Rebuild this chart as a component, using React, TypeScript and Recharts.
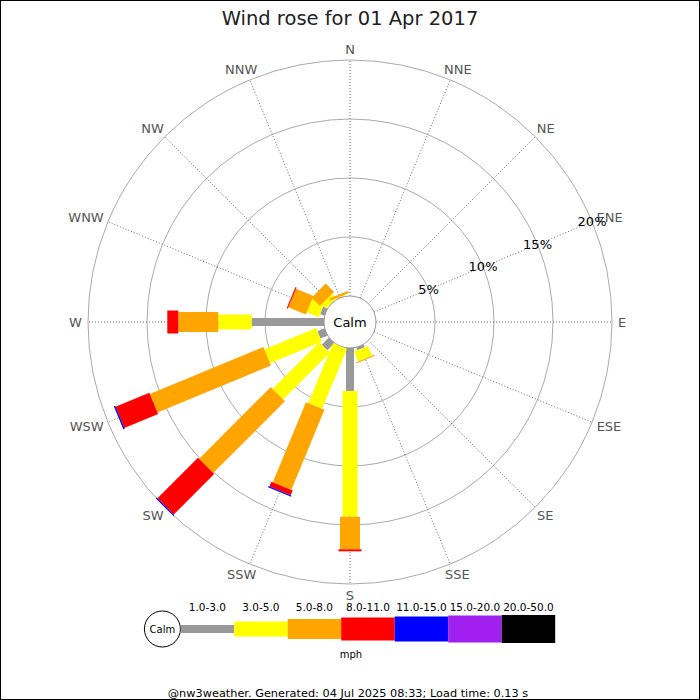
import React from 'react';
import {
  RadialBarChart,
  RadialBar,
  PolarAngleAxis,
  PolarRadiusAxis,
  PolarGrid,
  Customized,
} from 'recharts';

// wind directions, clockwise from north
const directions = ['N', 'NNE', 'NE', 'ENE', 'E', 'ESE', 'SE', 'SSE', 'S', 'SSW', 'SW', 'WSW', 'W', 'WNW', 'NW', 'NNW'];

// % of the day in each speed band (mph), one value per direction
const speed1to3 = [0, 0, 0, 0, 0, 0, 0, 0.25, 3.64, 0, 0.85, 0.65, 6.13, 0.4, 0.05, 0.05];
const speed3to5 = [0, 0, 0, 0, 0, 0, 0, 0.9, 10.66, 5.5, 5.6, 4.75, 2.83, 1.1, 0.5, 0.05];
const speed5to8 = [0, 0, 0, 0, 0, 0, 0, 0.1, 2.76, 7.35, 8.6, 10.4, 3.39, 1.6, 1.0, 0.2];
const speed8to11 = [0, 0, 0, 0, 0, 0, 0, 0, 0.17, 0.44, 4.85, 3.1, 0.93, 0.1, 0, 0];
const speed11to15 = [0, 0, 0, 0, 0, 0, 0, 0, 0, 0.1, 0.15, 0.12, 0, 0, 0, 0];
const speed15to20 = [0, 0, 0, 0, 0, 0, 0, 0, 0, 0, 0, 0, 0, 0, 0, 0];
const speed20to50 = [0, 0, 0, 0, 0, 0, 0, 0, 0, 0, 0, 0, 0, 0, 0, 0];

const bandLabels = ['1.0-3.0', '3.0-5.0', '5.0-8.0', '8.0-11.0', '11.0-15.0', '15.0-20.0', '20.0-50.0'];
const radiusTicks = [5, 10, 15, 20];

const CX = 350;
const CY = 322;
const R0 = 26;
const R1 = 262;
const FONT = '"DejaVu Sans", Verdana, sans-serif';
// bars sit in the middle of their band, the ticks at its edge
const HALF_BAND = 360 / directions.length / 2;

const series = [
  { key: 's1', values: speed1to3, color: '#999999', width: 8 },
  { key: 's2', values: speed3to5, color: '#ffff00', width: 15 },
  { key: 's3', values: speed5to8, color: '#ffa500', width: 20 },
  { key: 's4', values: speed8to11, color: '#ff0000', width: 23 },
  { key: 's5', values: speed11to15, color: '#0000ff', width: 25 },
  { key: 's6', values: speed15to20, color: '#a020f0', width: 27 },
  { key: 's7', values: speed20to50, color: '#000000', width: 28 },
];

const data = directions.map((dir, i) => {
  const row: any = { dir };
  series.forEach((s) => (row[s.key] = s.values[i]));
  return row;
});

// straight bar piece instead of a wedge
const rosePiece = (w: number) => (p: any) => {
  const { cx, cy, innerRadius, outerRadius, startAngle, endAngle, fill } = p;
  if (!(outerRadius - innerRadius > 0.05)) return <g />;
  const mid = (startAngle + endAngle) / 2 - HALF_BAND;
  const a = (-mid * Math.PI) / 180;
  const ux = Math.cos(a);
  const uy = Math.sin(a);
  const tx = (-uy * w) / 2;
  const ty = (ux * w) / 2;
  const pts = [
    [innerRadius, 1],
    [outerRadius, 1],
    [outerRadius, -1],
    [innerRadius, -1],
  ]
    .map(([r, s]) => `${cx + ux * r + s * tx},${cy + uy * r + s * ty}`)
    .join(' ');
  return <polygon points={pts} fill={fill} />;
};

const charW: any = { N: 9.7, E: 8.2, S: 8.3, W: 12.9 };

const DirTick = (props: any) => {
  const { payload } = props;
  const label = String(payload.value);
  const a = (-payload.coordinate * Math.PI) / 180;
  const ux = Math.cos(a);
  const uy = Math.sin(a);
  const halfW = label.split('').reduce((t, c) => t + (charW[c] || 9), 0) / 2;
  const x = CX + ux * 268 + ux * halfW;
  const y = CY + uy * 268 + uy * 5;
  return (
    <text x={x} y={y} textAnchor="middle" dominantBaseline="central" fontSize={13} fill="#555" fontFamily={FONT}>
      {label}
    </text>
  );
};

const PctTick = (props: any) => {
  const { x, y, payload } = props;
  return (
    <text x={x} y={y} textAnchor="middle" dominantBaseline="central" fontSize={13} fill="#000" fontFamily={FONT}>
      {payload.value}%
    </text>
  );
};

const CalmCircle = () => (
  <g>
    <circle cx={CX} cy={CY} r={R0} fill="#fff" stroke="#999" strokeWidth={1} />
    <text x={CX} y={CY} textAnchor="middle" dominantBaseline="central" fontSize={13} fill="#000" fontFamily={FONT}>
      Calm
    </text>
  </g>
);

const legendX0 = 180.7;
const legendStep = 53.5;
const legendY = 629;

const App = () => {
  return (
    <div style={{ position: 'absolute', left: 0, top: 0, width: 700, height: 700, background: '#fff' }}>
      <RadialBarChart
        width={700}
        height={700}
        cx={CX}
        cy={CY}
        innerRadius={R0}
        outerRadius={R1}
        data={data}
        layout="centric"
        startAngle={90}
        endAngle={-270}
        margin={{ top: 0, right: 0, bottom: 0, left: 0 }}
      >
        <PolarGrid gridType="circle" radialLines={false} stroke="#aaa" />
        <PolarGrid gridType="circle" polarRadius={[]} stroke="#444" strokeDasharray="1 2" strokeWidth={0.8} />
        <PolarAngleAxis type="category" dataKey="dir" axisLine={false} tickLine={false} tick={DirTick} />
        <PolarRadiusAxis
          type="number"
          angle={22.5}
          domain={[0, 20]}
          allowDataOverflow
          ticks={radiusTicks}
          axisLine={false}
          tickLine={false}
          tick={PctTick}
        />
        {series.map((s) => (
          <RadialBar
            key={s.key}
            dataKey={s.key}
            stackId="wind"
            fill={s.color}
            shape={rosePiece(s.width)}
            isAnimationActive={false}
          />
        ))}
        <Customized component={CalmCircle} />
      </RadialBarChart>

      <svg width={700} height={700} style={{ position: 'absolute', left: 0, top: 0, pointerEvents: 'none' }} fontFamily={FONT}>
        <rect x={0.5} y={0.5} width={699} height={699} fill="none" stroke="#000" />
        <text x={350} y={25} textAnchor="middle" fontSize={19.5} fill="#222">
          Wind rose for 01 Apr 2017
        </text>
        <circle cx={162.4} cy={legendY} r={18} fill="#fff" stroke="#000" />
        <text x={162.4} y={legendY} textAnchor="middle" dominantBaseline="central" fontSize={10} fill="#000">
          Calm
        </text>
        {series.map((s, i) => (
          <g key={s.key}>
            <rect x={legendX0 + i * legendStep} y={legendY - s.width / 2} width={legendStep} height={s.width} fill={s.color} />
            <text
              x={legendX0 + i * legendStep + legendStep / 2}
              y={607}
              textAnchor="middle"
              dominantBaseline="central"
              fontSize={10.5}
              fill="#000"
            >
              {bandLabels[i]}
            </text>
          </g>
        ))}
        <text x={351} y={654} textAnchor="middle" dominantBaseline="central" fontSize={10} fill="#000">
          mph
        </text>
        <text x={348} y={693} textAnchor="middle" dominantBaseline="central" fontSize={11.3} fill="#000">
          @nw3weather. Generated: 04 Jul 2025 08:33; Load time: 0.13 s
        </text>
      </svg>
    </div>
  );
};

export default App;
